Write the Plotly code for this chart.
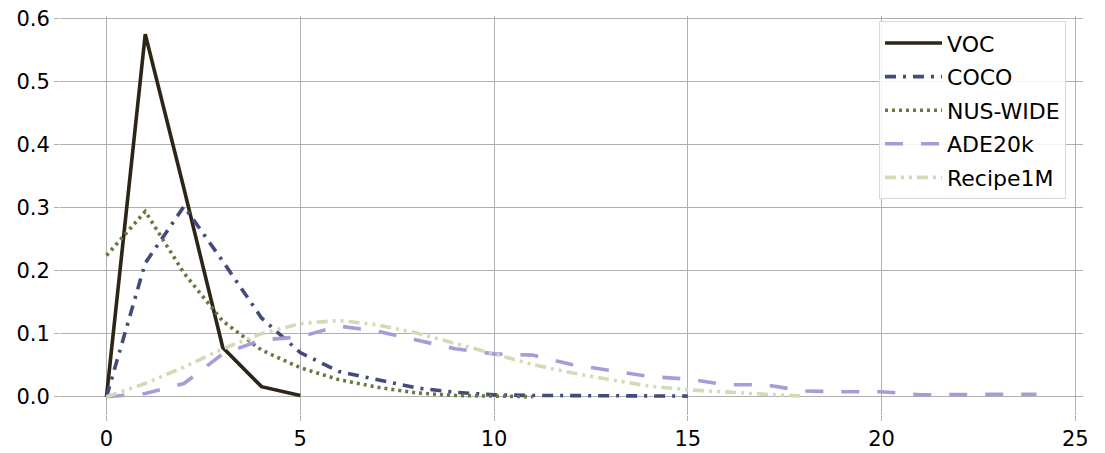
import plotly.graph_objects as go

# number of labels per image (x) and fraction of images (y)
voc_x = [0, 1, 2, 3, 4, 5]
voc_y = [0.0, 0.575, 0.33, 0.078, 0.016, 0.002]

coco_x = list(range(0, 16))
coco_y = [0.0, 0.212, 0.302, 0.215, 0.125, 0.07, 0.04, 0.027, 0.014, 0.007,
          0.003, 0.002, 0.002, 0.001, 0.001, 0.001]

nus_x = list(range(0, 12))
nus_y = [0.224, 0.294, 0.196, 0.12, 0.074, 0.046, 0.027, 0.015, 0.006, 0.002,
         0.001, 0.0]

ade_x = list(range(0, 25))
ade_y = [0.0, 0.005, 0.021, 0.068, 0.09, 0.095, 0.112, 0.104, 0.09, 0.076,
         0.068, 0.066, 0.051, 0.041, 0.032, 0.028, 0.019, 0.019, 0.009, 0.008,
         0.008, 0.003, 0.004, 0.004, 0.004]

recipe_x = list(range(0, 19))
recipe_y = [0.0, 0.021, 0.047, 0.076, 0.1, 0.116, 0.121, 0.114, 0.101, 0.085,
            0.068, 0.051, 0.038, 0.027, 0.017, 0.011, 0.007, 0.004, 0.001]

series = [
    ("VOC", voc_x, voc_y, "#2d2616", "solid"),
    ("COCO", coco_x, coco_y, "#424a7e", "11px,7px,3px,7px"),
    ("NUS-WIDE", nus_x, nus_y, "#6b7740", "3px,4px"),
    ("ADE20k", ade_x, ade_y, "#a99bd8", "18px,18px"),
    ("Recipe1M", recipe_x, recipe_y, "#d0dcb6", "11px,5px,3px,5px,3px,5px"),
]

fig = go.Figure()
for i, (name, xs, ys, color, dash) in enumerate(series):
    fig.add_trace(go.Scatter(x=xs, y=ys, mode="lines", name=name, legendgroup=str(i),
                             line=dict(color=color, width=3.6, dash=dash)))

axis_style = dict(showgrid=True, gridcolor="#b0b0b0", gridwidth=1, zeroline=False,
                  showline=False, ticks="outside", ticklen=5, tickcolor="#b0b0b0",
                  automargin=False, ticklabeloverflow="allow",
                  tickfont=dict(family="DejaVu Sans", size=21, color="black"))

fig.update_xaxes(range=[-1.2, 25.2], tickvals=[0, 5, 10, 15, 20, 25], **axis_style)
fig.update_yaxes(range=[-0.029, 0.604], tickvals=[0, 0.1, 0.2, 0.3, 0.4, 0.5, 0.6],
                 tickformat=".1f", **axis_style)

# the page body has an 8px margin, so the figure is drawn 8px smaller
fig.update_layout(
    width=1097, height=445,
    margin=dict(l=52, r=22, t=8, b=38),
    plot_bgcolor="white", paper_bgcolor="white",
    font=dict(family="DejaVu Sans", size=21, color="black"),
    legend=dict(x=0.8006, y=0.987, xanchor="left", yanchor="top",
                bgcolor="rgba(255,255,255,0.85)", bordercolor="#d8d8d8", borderwidth=1,
                tracegroupgap=2, itemwidth=57, font=dict(size=22)),
)

fig.write_html("out.html")
